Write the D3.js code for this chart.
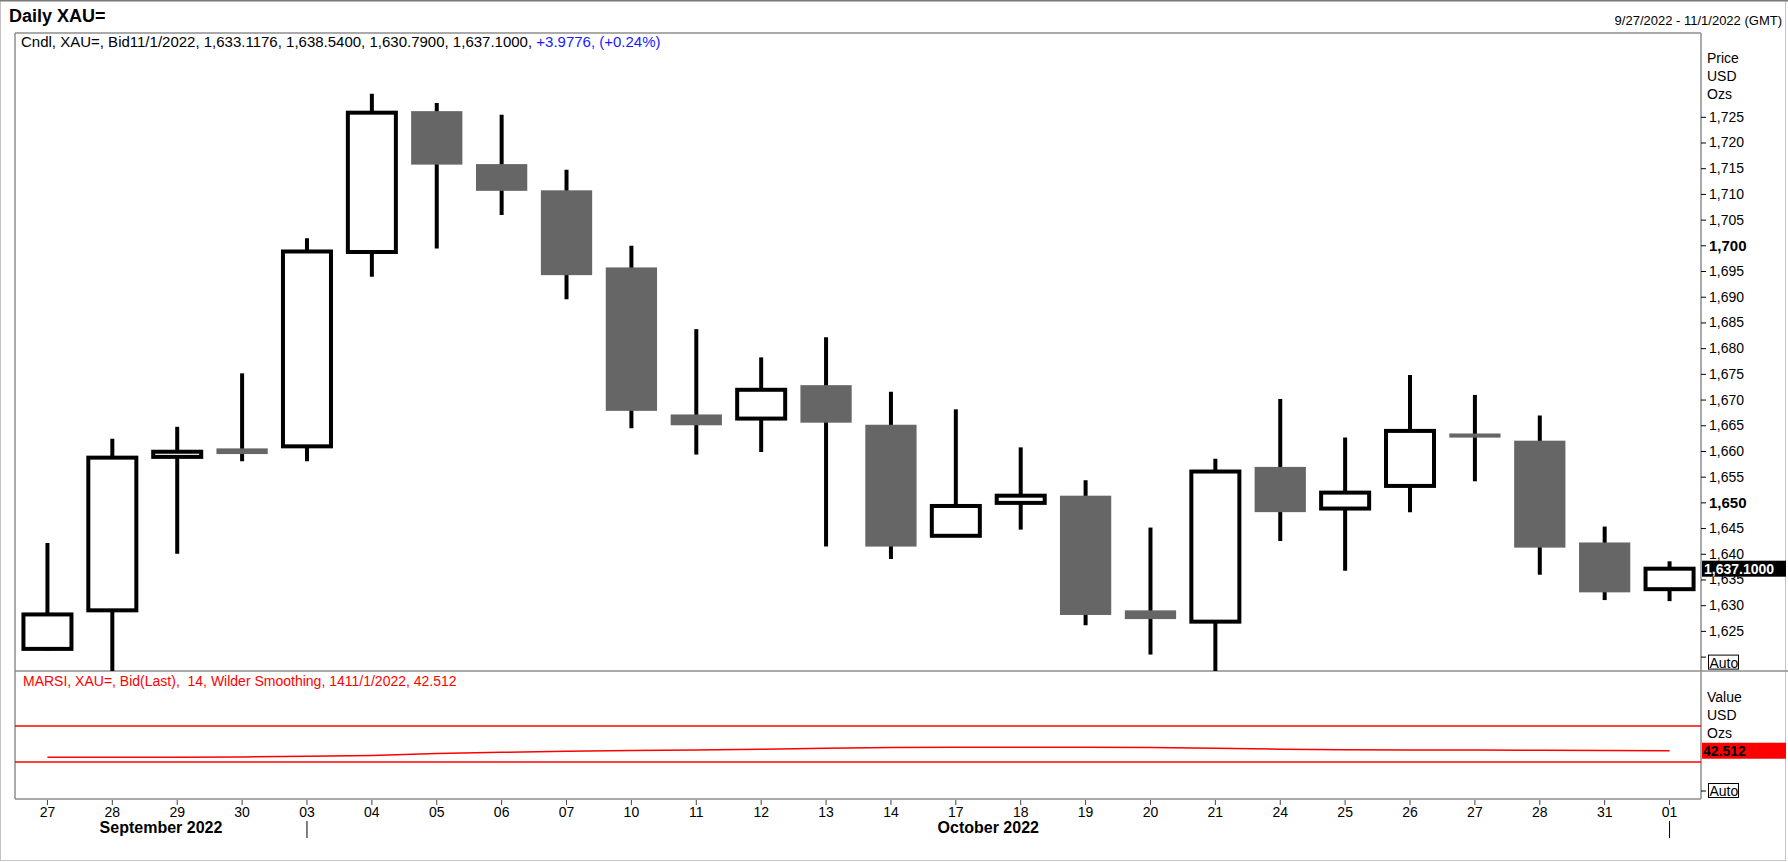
<!DOCTYPE html>
<html>
<head>
<meta charset="utf-8">
<script src="https://cdn.jsdelivr.net/npm/d3@7"></script>
<style>
    body { margin: 0; background: #fff; }
    svg { display: block; font-family: "Liberation Sans", Arial, sans-serif; }
</style>
</head>
<body>
<svg id="chart" width="1788" height="862"></svg>
<script>
// daily gold bars, 9/27/2022 - 11/1/2022
const days = ['27','28','29','30','03','04','05','06','07','10','11','12','13','14','17','18','19','20','21','24','25','26','27','28','31','01'];
const openPx  = [1621.5, 1629.0, 1658.85, 1660.5, 1660.9, 1698.7, 1726.1, 1715.8, 1710.7, 1695.7, 1667.1, 1666.3, 1672.8, 1665.1, 1643.5, 1649.9, 1651.3, 1629.0, 1626.8, 1656.9, 1648.8, 1653.2, 1663.4, 1662.0, 1642.2, 1633.1176];
const highPx  = [1642.1, 1662.4, 1664.7, 1675.1, 1701.4, 1729.5, 1727.7, 1725.4, 1714.7, 1699.9, 1683.7, 1678.2, 1682.1, 1671.5, 1668.1, 1660.7, 1654.3, 1645.1, 1658.5, 1670.1, 1662.6, 1674.8, 1670.9, 1666.9, 1645.3, 1638.54];
const lowPx   = [1621.2, 1614.9, 1640.0, 1658.0, 1658.0, 1693.9, 1699.4, 1705.9, 1689.5, 1664.4, 1659.3, 1659.8, 1641.4, 1639.0, 1643.5, 1644.7, 1626.1, 1620.4, 1616.5, 1642.5, 1636.7, 1648.1, 1654.1, 1635.9, 1631.0, 1630.79];
const closePx = [1628.2, 1658.7, 1659.85, 1659.4, 1698.8, 1725.8, 1715.7, 1710.6, 1694.2, 1667.8, 1665.0, 1671.9, 1665.5, 1641.4, 1649.3, 1651.3, 1628.1, 1627.3, 1656.0, 1648.1, 1651.9, 1663.9, 1662.6, 1641.2, 1632.5, 1637.1];

// MARSI 14, Wilder smoothing
const rsi = [35.2, 35.2, 35.3, 35.6, 36.3, 37.2, 39.5, 40.8, 42.0, 42.8, 43.2, 44.2, 45.2, 46.0, 46.3, 46.4, 46.3, 46.0, 45.2, 44.2, 43.6, 43.3, 43.2, 43.0, 42.7, 42.512];
const rsiLevels = [30, 70];

const priceTicks = [1620, 1625, 1630, 1635, 1640, 1645, 1650, 1655, 1660, 1665, 1670, 1675, 1680, 1685, 1690, 1695, 1700, 1705, 1710, 1715, 1720, 1725];
const monthNames = ['September 2022', 'October 2022'];
const monthBreaks = [4, 25]; // first bar of the next month

const lastPrice = 1637.1;
const lastRsi = 42.512;

const svg = d3.select('#chart');
const plotLeft = 15, plotRight = 1701, plotTop = 33, priceBottom = 671, rsiBottom = 799;

const x = d3.scaleBand().domain(d3.range(days.length)).range([plotLeft, plotRight + 1]);
const cx = i => x(i) + x.bandwidth() / 2;
const y = d3.scaleLinear().domain([1617.2, 1741.3]).range([priceBottom, plotTop]);
const rsiY = d3.scaleLinear().domain([0, 100]).range([789, 699]);

// outer frame
svg.append('rect')
    .attr('x', 0.5).attr('y', 0.5).attr('width', 1785).attr('height', 860)
    .style('fill', 'none').style('stroke', '#c4c4c4');
svg.append('line')
    .attr('x1', 0).attr('x2', 1788).attr('y1', 0.5).attr('y2', 0.5)
    .style('stroke', '#7a7a7a').style('stroke-width', 2);

// header
svg.append('text')
    .text('Daily XAU=')
    .attr('x', 9).attr('y', 22)
    .style('font-size', '18px').style('font-weight', 'bold');
svg.append('text')
    .text('9/27/2022 - 11/1/2022 (GMT)')
    .attr('x', 1782).attr('y', 25)
    .attr('text-anchor', 'end')
    .style('font-size', '13px');

// panel borders
const frame = svg.append('g').style('stroke', '#8e8e8e').style('stroke-width', 1.5);
frame.append('line').attr('x1', plotLeft).attr('x2', plotRight).attr('y1', plotTop).attr('y2', plotTop);
frame.append('line').attr('x1', plotLeft).attr('x2', plotLeft).attr('y1', plotTop).attr('y2', rsiBottom);
frame.append('line').attr('x1', plotRight).attr('x2', plotRight).attr('y1', plotTop).attr('y2', rsiBottom);
frame.append('line').attr('x1', plotLeft).attr('x2', 1788).attr('y1', priceBottom).attr('y2', priceBottom);
frame.append('line').attr('x1', plotLeft).attr('x2', plotRight).attr('y1', rsiBottom).attr('y2', rsiBottom);

svg.append('clipPath').attr('id', 'price-clip')
    .append('rect')
    .attr('x', plotLeft).attr('y', plotTop)
    .attr('width', plotRight - plotLeft).attr('height', priceBottom - plotTop);

// candles
const candles = days.map((d, i) => ({ i: i, o: openPx[i], h: highPx[i], l: lowPx[i], c: closePx[i] }));
const plot = svg.append('g').attr('clip-path', 'url(#price-clip)');

plot.selectAll('line.wick')
    .data(candles)
    .join('line')
    .attr('class', 'wick')
    .attr('x1', d => cx(d.i)).attr('x2', d => cx(d.i))
    .attr('y1', d => y(d.h)).attr('y2', d => y(d.l))
    .style('stroke', '#000').style('stroke-width', 4);

const bw = x.bandwidth();
plot.selectAll('rect.body')
    .data(candles)
    .join('rect')
    .attr('class', 'body')
    .attr('x', d => d.c >= d.o ? cx(d.i) - bw * 0.37 : cx(d.i) - bw * 0.395)
    .attr('width', d => d.c >= d.o ? bw * 0.74 : bw * 0.79)
    .attr('y', d => {
        const h = Math.abs(y(d.o) - y(d.c));
        return Math.min(y(d.o), y(d.c)) - Math.max(0, 4 - h) / 2;
    })
    .attr('height', d => Math.max(Math.abs(y(d.o) - y(d.c)), 4))
    .style('fill', d => d.c >= d.o ? '#fff' : '#666666')
    .style('stroke', d => d.c >= d.o ? '#000' : 'none')
    .style('stroke-width', 4);

// legend line
const legend = svg.append('text').attr('x', 21).attr('y', 47).style('font-size', '15px');
legend.append('tspan')
    .text(`Cndl, XAU=, Bid11/1/2022, ${d3.format(',.4f')(openPx[25])}, ${d3.format(',.4f')(highPx[25])}, ${d3.format(',.4f')(lowPx[25])}, ${d3.format(',.4f')(closePx[25])}, `);
legend.append('tspan')
    .text('+3.9776, (+0.24%)')
    .style('fill', '#1a1aff');

// price axis
const yAxis = d3.axisRight(y)
    .tickValues(priceTicks)
    .tickSize(5)
    .tickPadding(3)
    .tickFormat(d => d === 1620 ? '' : d3.format(',')(d));
const ya = svg.append('g').attr('transform', `translate(${plotRight},0)`).call(yAxis);
ya.select('.domain').remove();
ya.selectAll('text')
    .style('font-family', '"Liberation Sans", Arial, sans-serif')
    .style('font-size', d => d % 50 === 0 ? '15px' : '14px')
    .style('font-weight', d => d % 50 === 0 ? 'bold' : 'normal')
    .style('fill', '#000');
ya.selectAll('line').style('stroke', '#000');

['Price', 'USD', 'Ozs'].forEach((t, k) => {
    svg.append('text').text(t)
        .attr('x', 1707).attr('y', 63 + k * 18)
        .style('font-size', '14px');
});

// last price tag
svg.append('rect')
    .attr('x', plotRight + 1).attr('y', y(lastPrice) - 8)
    .attr('width', 84).attr('height', 16)
    .style('fill', '#000');
svg.append('text')
    .text(d3.format(',.4f')(lastPrice))
    .attr('x', plotRight + 3).attr('y', y(lastPrice) + 5)
    .style('font-size', '14px').style('font-weight', 'bold').style('fill', '#fff');

function autoBox(yPos){
    svg.append('rect')
        .attr('x', 1708.5).attr('y', yPos - 7.5)
        .attr('width', 30).attr('height', 14)
        .style('fill', '#fff').style('stroke', '#000');
    svg.append('text')
        .text('Auto')
        .attr('x', 1709.5).attr('y', yPos + 5)
        .style('font-size', '14px');
}
autoBox(y(1620) + 6);

// RSI panel
svg.append('text')
    .text(`MARSI, XAU=, Bid(Last),  14, Wilder Smoothing, 1411/1/2022, ${lastRsi}`)
    .attr('x', 23).attr('y', 686)
    .style('font-size', '14px')
    .style('fill', '#ff0000')
    .style('white-space', 'pre');

svg.selectAll('line.level')
    .data(rsiLevels)
    .join('line')
    .attr('class', 'level')
    .attr('x1', plotLeft).attr('x2', plotRight)
    .attr('y1', d => rsiY(d)).attr('y2', d => rsiY(d))
    .style('stroke', '#ff0000').style('stroke-width', 1.5);

svg.append('path')
    .datum(rsi)
    .attr('d', d3.line().x((d, i) => cx(i)).y(d => rsiY(d)))
    .style('fill', 'none')
    .style('stroke', '#ff0000')
    .style('stroke-width', 1.5);

['Value', 'USD', 'Ozs'].forEach((t, k) => {
    svg.append('text').text(t)
        .attr('x', 1707).attr('y', 702 + k * 18)
        .style('font-size', '14px');
});

svg.append('rect')
    .attr('x', plotRight + 1).attr('y', rsiY(lastRsi) - 8)
    .attr('width', 84).attr('height', 16)
    .style('fill', '#ff0000');
svg.append('text')
    .text(lastRsi)
    .attr('x', plotRight + 2).attr('y', rsiY(lastRsi) + 5)
    .style('font-size', '14px').style('font-weight', 'bold').style('fill', '#000');

svg.append('line')
    .attr('x1', plotRight).attr('x2', plotRight + 5)
    .attr('y1', rsiY(0) + 2).attr('y2', rsiY(0) + 2)
    .style('stroke', '#000');
autoBox(rsiY(0) + 2);

// time axis
const xAxis = d3.axisBottom(x)
    .tickFormat(i => days[i])
    .tickSize(5)
    .tickPadding(2);
const xa = svg.append('g').attr('transform', `translate(0,${rsiBottom + 1})`).call(xAxis);
xa.select('.domain').remove();
xa.selectAll('text')
    .style('font-family', '"Liberation Sans", Arial, sans-serif')
    .style('font-size', '14px')
    .style('fill', '#000');
xa.selectAll('line').style('stroke', '#444');

monthBreaks.forEach(b => {
    svg.append('line')
        .attr('x1', cx(b)).attr('x2', cx(b))
        .attr('y1', 821).attr('y2', 838)
        .style('stroke', '#000');
});

monthNames.forEach((m, k) => {
    const from = k === 0 ? plotLeft : cx(monthBreaks[k - 1]);
    const to = cx(monthBreaks[k]);
    svg.append('text')
        .text(m)
        .attr('x', (from + to) / 2).attr('y', 833)
        .attr('text-anchor', 'middle')
        .style('font-size', '16px').style('font-weight', 'bold');
});
</script>
</body>
</html>
